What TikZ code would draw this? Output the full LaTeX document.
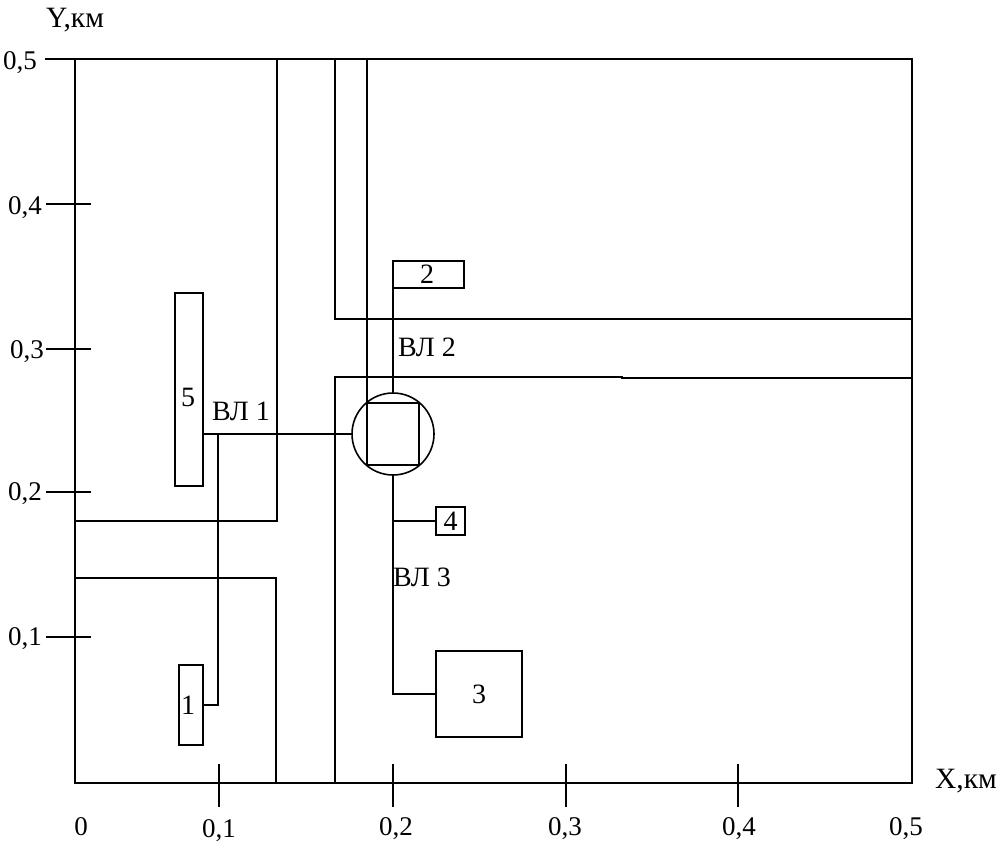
\documentclass[tikz,border=0pt]{standalone}
\usepackage{fontspec}
\setmainfont{Liberation Serif}
\tikzset{
  every path/.style={line width=2pt},
  lbl/.style={inner sep=0pt,font=\fontsize{27}{27}\selectfont},
  wordlbl/.style={inner sep=0pt,font=\fontsize{28}{30}\selectfont},
  axlbl/.style={inner sep=0pt,font=\fontsize{29.5}{30}\selectfont},
  obj/.style={draw,rectangle,inner sep=0pt,outer sep=0pt,font=\fontsize{28}{28}\selectfont},
  subst/.style={draw,circle,inner sep=0pt,outer sep=0pt,minimum size=82pt,line width=1.6pt},
  sqr/.style={draw,rectangle,inner sep=0pt,outer sep=0pt,minimum width=52pt,minimum height=62pt},
  axisline/.style={line width=2pt,line cap=rect},
  feeder/.style={line width=2pt}
}
\begin{document}
\begin{tikzpicture}[x=1pt,y=-1pt]
\useasboundingbox (0,0) rectangle (1000,849);
% frame and axes
\draw[axisline] (46,59) -- (912,59) -- (912,783) -- (75,783) -- (75,59);
% ticks
\draw (46,204) -- (91,204);
\draw (46,349) -- (91,349);
\draw (46,492) -- (91,492);
\draw (46,637) -- (91,637);
\draw (219,764) -- (219,807);
\draw (393,764) -- (393,807);
\draw (566,764) -- (566,807);
\draw (738,764) -- (738,807);
% streets
\draw (277,59) -- (277,521) -- (75,521);
\draw (75,578) -- (276,578) -- (276,783);
\draw (912,319) -- (335,319) -- (335,59);
\draw (335,783) -- (335,377) -- (622,377) -- (622,378) -- (912,378);
% objects
\node[subst] (sub) at (393,434) {};
\node[sqr] (tr) at (393,434) {};
\node[obj,minimum width=71pt,minimum height=27pt] (b2) at (428.5,274.5) {};
\node[obj,minimum width=86pt,minimum height=86pt] (b3) at (479,694) {3};
\node[obj,minimum width=29pt,minimum height=28pt] (b4) at (450.5,521) {4};
\node[obj,minimum width=28pt,minimum height=193pt] (b5) at (189,389.5) {};
\node[obj,minimum width=24pt,minimum height=80pt] (b1) at (191,705) {};
% numbers inside boxes placed like the source
\node[obj,draw=none] (t2) at (427,274) {2};
\node[obj,draw=none] (t5) at (188,397) {5};
\node[obj,draw=none] (t1) at (188,705) {1};
% junctions
\coordinate (top367) at (367,59);
\coordinate (j1) at (218,434);
\coordinate (j4) at (393,521);
% connectors
\draw[feeder] (top367) -- (tr.north west);
\draw[feeder] (b2.south west) -- (sub.north);
\draw[feeder] (b5.east |- sub.west) -- (sub.west);
\draw[feeder] (b1.east) -| (j1);
\draw[feeder] (sub.south) -- (j4) -- (b4.west);
\draw[feeder] (j4) |- (b3.west);
% labels
\node[wordlbl] (vl1) at (241,411) {ВЛ 1};
\node[wordlbl] (vl2) at (427,347) {ВЛ 2};
\node[wordlbl] (vl3) at (422,577) {ВЛ 3};
\node[axlbl] (ylab) at (75,20) {Y,км};
\node[axlbl] (xlab) at (966,781) {X,км};
\node[lbl] (y5) at (20,63) {0,5};
\node[lbl] (y4) at (25,208) {0,4};
\node[lbl] (y3) at (27,352) {0,3};
\node[lbl] (y2) at (25,494) {0,2};
\node[lbl] (y1) at (25,639) {0,1};
\node[lbl] (x0) at (81,827) {0};
\node[lbl] (x1) at (219,831) {0,1};
\node[lbl] (x2) at (396,829) {0,2};
\node[lbl] (x3) at (565,829) {0,3};
\node[lbl] (x4) at (739,829) {0,4};
\node[lbl] (x5) at (906,829) {0,5};
\end{tikzpicture}
\end{document}
